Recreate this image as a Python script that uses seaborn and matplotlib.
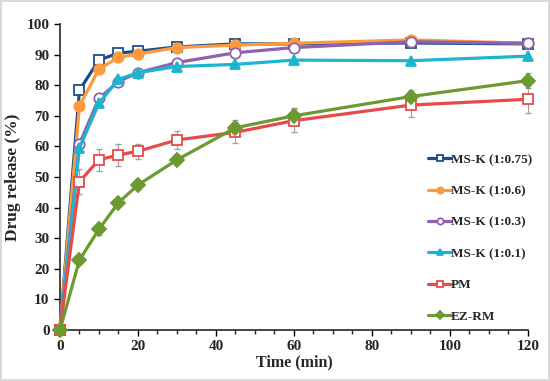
import numpy as np
import pandas as pd
import seaborn as sns
import matplotlib.pyplot as plt

# sampling times (min)
time = [0, 5, 10, 15, 20, 30, 45, 60, 90, 120]

# drug release (%) per formulation
ms_k_075 = [0, 78.4, 88.2, 90.5, 91.1, 92.5, 93.5, 93.5, 93.8, 93.5]
ms_k_06 = [0, 73.2, 85.3, 89.1, 90.2, 92.3, 93.1, 93.7, 94.8, 93.7]
ms_k_03 = [0, 60.8, 75.7, 81.2, 84.1, 87.4, 90.6, 92.3, 94.2, 93.7]
ms_k_01 = [0, 59.5, 74.1, 81.9, 84.1, 86.1, 86.8, 88.2, 88.0, 89.5]
pm = [0, 48.5, 55.6, 57.2, 58.4, 62.1, 64.6, 68.4, 73.5, 75.4]
ez_rm = [0, 22.9, 32.9, 41.6, 47.4, 55.6, 66.1, 70.0, 76.3, 81.5]

# standard deviations
pm_sd = [0, 4.0, 3.5, 3.5, 2.5, 3.0, 3.5, 3.8, 4.0, 4.5]
ez_rm_sd = [0, 1.0, 2.0, 1.2, 1.2, 1.5, 2.5, 2.5, 2.0, 2.5]

series = [
    ("MS-K (1:0.75)", ms_k_075, "#1b4f8a", "s", "white"),
    ("MS-K (1:0.6)", ms_k_06, "#ff9a3c", "o", None),
    ("MS-K (1:0.3)", ms_k_03, "#8e62b0", "o", "white"),
    ("MS-K (1:0.1)", ms_k_01, "#1cb5d0", "^", None),
    ("PM", pm, "#e84a4a", "s", "white"),
    ("EZ-RM", ez_rm, "#6a9a30", "D", None),
]

sns.set_style("ticks")
plt.rcParams["font.family"] = ["Liberation Serif", "DejaVu Serif"]
plt.rcParams["font.weight"] = "bold"

fig = plt.figure(figsize=(5.5, 3.81), dpi=100)
fig.patch.set_edgecolor("#d9d9d9")
fig.patch.set_linewidth(1.5)
ax = fig.add_axes([0.109, 0.134, 0.851, 0.803])

# error bars first so they sit behind lines
for vals, sd in [(pm, pm_sd), (ez_rm, ez_rm_sd)]:
    eb = ax.errorbar(time, vals, yerr=sd, fmt="none", ecolor="#a0a0a0",
                     elinewidth=0.8, capsize=2.5, zorder=1)
    for art in eb.lines[1] + eb.lines[2]:
        art.set_clip_on(False)

for name, vals, color, mk, face in series:
    df = pd.DataFrame({"t": time, "r": vals})
    sns.lineplot(data=df, x="t", y="r", ax=ax, color=color, lw=2.3,
                 marker=mk, markersize=7.5 if mk != "D" else 7,
                 markerfacecolor=face if face else color,
                 markeredgecolor=color, markeredgewidth=1.3,
                 label=name, zorder=3, clip_on=False)

ax.set_xlim(0, 120)
ax.set_ylim(0, 100)
ax.set_xticks(np.arange(0, 121, 20))
ax.set_xticks(np.arange(0, 121, 5), minor=True)
ax.set_yticks(np.arange(0, 101, 10))
ax.tick_params(axis="both", labelsize=11, width=1, length=4, color="black")
ax.tick_params(axis="x", which="minor", length=3, width=1)
for lab in ax.get_xticklabels() + ax.get_yticklabels():
    lab.set_fontweight("bold")
ax.spines["left"].set_linewidth(1.2)
ax.spines["bottom"].set_linewidth(1.2)
sns.despine(ax=ax)

ax.set_xlabel("Time (min)", fontsize=11.5, fontweight="bold", labelpad=1)
ax.set_ylabel("Drug release (%)", fontsize=12.5, fontweight="bold", labelpad=4)

leg = ax.legend(loc="upper left", bbox_to_anchor=(0.762, 0.615), frameon=False,
                prop={"weight": "bold", "size": 9.5}, labelspacing=1.45,
                handlelength=1.7, handletextpad=0.0, markerscale=0.6)

fig.savefig("out.png", dpi=100)
